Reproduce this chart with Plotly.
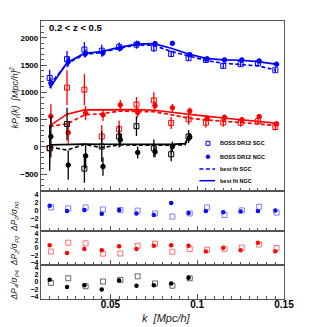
import plotly.graph_objects as go
from plotly.subplots import make_subplots

# ---------------- data ----------------
k = [0.015, 0.025, 0.035, 0.045, 0.055, 0.065, 0.075, 0.085, 0.095,
     0.105, 0.115, 0.125, 0.135, 0.145]
k4 = k[:9]
k4_fit = [0.015, 0.025, 0.035, 0.045, 0.055, 0.065, 0.075, 0.085, 0.093, 0.095]

# monopole (blue)
p0_sgc = [1265, 1610, 1785, 1765, 1835, 1875, 1810, 1705, 1627, 1596, 1486, 1517, 1535, 1407]
p0_sgc_err = [150, 150, 140, 110, 85, 75, 70, 60, 50, 45, 40, 38, 35, 32]
p0_ngc = [1170, 1560, 1715, 1725, 1810, 1895, 1895, 1900, 1694, 1615, 1596, 1596, 1578, 1517]
p0_ngc_err = [100, 85, 70, 60, 50, 45, 40, 35, 30, 28, 25, 24, 22, 20]
fit0_sgc = [1140, 1530, 1695, 1735, 1810, 1870, 1865, 1750, 1670, 1585, 1535, 1517, 1486, 1413]
fit0_ngc = [1080, 1545, 1715, 1750, 1825, 1885, 1895, 1810, 1705, 1625, 1596, 1590, 1565, 1517]

# quadrupole (red)
p2_sgc = [-30, 1088, 1050, 190, 324, 777, 853, 440, 505, 443, 449, 443, 474, 364]
p2_sgc_err = [300, 320, 290, 210, 160, 140, 150, 110, 100, 90, 80, 75, 70, 65]
p2_ngc = [560, 262, 618, 587, 770, 630, 758, 716, 660, 520, 541, 498, 556, 422]
p2_ngc_err = [220, 200, 130, 110, 90, 85, 75, 70, 60, 55, 50, 45, 45, 40]
fit2_sgc = [375, 422, 587, 610, 655, 650, 645, 590, 526, 495, 465, 446, 422, 390]
fit2_ngc = [385, 600, 679, 685, 690, 685, 672, 640, 600, 565, 530, 500, 468, 434]

# hexadecapole (black)
p4_sgc = [-20, 420, -400, 6, 190, 380, -25, -135, 190]
p4_sgc_err = [420, 300, 260, 280, 200, 180, 160, 130, 120]
p4_ngc = [190, -333, -165, -361, 128, -104, -92, 6, 178]
p4_ngc_err = [380, 270, 230, 170, 120, 110, 100, 90, 70]
fit4_sgc = [0, -60, 45, -12, 35, 30, 28, 30, 40, 175]
fit4_ngc = [35, 45, 50, 48, 45, 45, 45, 45, 60, 190]

# residuals (Delta P / sigma)
r0_ngc = [1.3, 0, 0.25, -0.7, 0.25, -0.6, -1.0, 2.0, -0.5, 0, -0.3, -0.15, 0, 0.15]
r0_sgc = [0.9, 0.65, 0.9, 0.4, 0.25, 0.1, -0.6, -1.4, -0.6, 0.9, -1.0, 0.15, 1.05, -0.4]
r2_ngc = [0.8, -1.4, -0.3, -0.6, 0.5, -0.3, 0.65, 0.8, 0.65, -1.0, 0.1, -0.65, 1.5, -0.9]
r2_sgc = [-1.0, 1.5, 1.3, -1.6, -1.55, 0.65, 1.2, -1.05, -0.3, -0.5, -0.25, 0.1, 1.0, 0.0]
r4_ngc = [0.65, -1.4, -0.9, -2.1, 0.4, -1.05, -0.9, -0.4, 1.2]
r4_sgc = [-0.25, 1.05, -1.2, 0.15, 0.6, 1.6, -0.4, -1.05, 1.05]

ref_levels = [-2, 2]
res_ticks = [-4, -2, 0, 2, 4]
res_ticktext = ["\u22124", "\u22122", "0", "2", "4"]

legend_labels = ["BOSS DR12 SGC", "BOSS DR12 NGC", "best fit SGC", "best fit NGC"]

# ---------------- style ----------------
BLUE = "rgb(0,0,255)"
RED = "rgb(255,0,0)"
BLACK = "rgb(0,0,0)"
LBLUE = "rgba(60,60,255,0.65)"
LRED = "rgba(255,40,40,0.65)"
LBLACK = "rgba(0,0,0,0.6)"
FONT = "Liberation Sans"
DASH = "4px,2.5px"
dk = 0.0007  # small visual offset between NGC and SGC markers

OFF = 8  # page body margin of the html page
W, H = 316 - OFF, 327 - OFF
# plot area in screen pixels
SX0, SX1, SY0, SY1 = 37, 284, 21, 299
ML, MR, MT, MB = SX0 - OFF, W - (SX1 - OFF), SY0 - OFF, H - (SY1 - OFF)
PW, PH = SX1 - SX0, SY1 - SY0


def px(x):
    return (x - SX0) / PW


def py(y):
    return 1 - (y - SY0) / PH


fig = make_subplots(rows=4, cols=1, shared_xaxes=True, vertical_spacing=0,
                    row_heights=[170, 40, 34, 34])


def add_err(x, y, e, color, symbol, row, size=5):
    fig.add_trace(go.Scatter(
        x=x, y=y, mode="markers",
        marker=dict(symbol=symbol, size=size, color=color,
                    line=dict(width=1, color=color)),
        error_y=dict(type="data", array=e, visible=True, color=color,
                     thickness=1.3, width=0),
        showlegend=False, hoverinfo="skip"), row=row, col=1)


def add_line(x, y, color, dash, row):
    fig.add_trace(go.Scatter(x=x, y=y, mode="lines",
                             line=dict(color=color, width=1.7, dash=dash),
                             showlegend=False, hoverinfo="skip"), row=row, col=1)


# main panel
for fs, fn, col in [(fit0_sgc, fit0_ngc, BLUE), (fit2_sgc, fit2_ngc, RED)]:
    add_line(k, fs, col, DASH, 1)
    add_line(k, fn, col, "solid", 1)
add_line(k4_fit, fit4_sgc, BLACK, DASH, 1)
add_line(k4_fit, fit4_ngc, BLACK, "solid", 1)

for xs, ps, es, pn, en, col in [
        (k, p0_sgc, p0_sgc_err, p0_ngc, p0_ngc_err, BLUE),
        (k, p2_sgc, p2_sgc_err, p2_ngc, p2_ngc_err, RED),
        (k4, p4_sgc, p4_sgc_err, p4_ngc, p4_ngc_err, BLACK)]:
    add_err(xs, ps, es, col, "square-open", 1, 5)
    add_err([v + dk for v in xs], pn, en, col, "circle", 1, 4.5)

# residual panels
for row, xs, rn, rs, col, lcol in [(2, k, r0_ngc, r0_sgc, BLUE, LBLUE),
                                   (3, k, r2_ngc, r2_sgc, RED, LRED),
                                   (4, k4, r4_ngc, r4_sgc, BLACK, LBLACK)]:
    fig.add_hline(y=0, line=dict(color="#8f8f8f", width=2), row=row, col=1)
    for lv in ref_levels:
        fig.add_hline(y=lv, line=dict(color="#8a8a8a", width=1.2, dash="3px,2px"),
                      row=row, col=1)
    fig.add_trace(go.Scatter(x=xs, y=rn, mode="markers",
                             marker=dict(symbol="circle", size=4.5, color=col),
                             showlegend=False, hoverinfo="skip"), row=row, col=1)
    fig.add_trace(go.Scatter(x=[v + dk for v in xs], y=rs, mode="markers",
                             marker=dict(symbol="square-open", size=5, color=lcol,
                                         line=dict(width=1, color=lcol)),
                             showlegend=False, hoverinfo="skip"), row=row, col=1)

# axes
AXC = "#555555"
for row in range(1, 5):
    fig.update_xaxes(range=[0.01, 0.15], showgrid=False, zeroline=False,
                     showline=True, linecolor=AXC, linewidth=1.3, mirror=True,
                     ticks="inside", ticklen=5, tickcolor=AXC, tickwidth=1,
                     tick0=0, dtick=0.05,
                     minor=dict(ticks="inside", ticklen=3, dtick=0.005,
                                tickcolor=AXC, showgrid=False),
                     showticklabels=(row == 4), row=row, col=1)
fig.update_xaxes(tickfont=dict(family=FONT, size=10, color="black", weight="bold"),
                 tickvals=[0.05, 0.1, 0.15], ticktext=["0.05", "0.1", "0.15"],
                 ticklabelstandoff=-4, row=4, col=1)

fig.update_yaxes(range=[-810, 2310], showgrid=False, zeroline=False,
                 showline=True, linecolor=AXC, linewidth=1.3, mirror=True,
                 ticks="inside", ticklen=6, tickcolor=AXC,
                 tickvals=[-500, 0, 500, 1000, 1500, 2000],
                 ticktext=["\u2212500", "0", "500", "1000", "1500", "2000"],
                 minor=dict(ticks="inside", ticklen=3, dtick=100, tickcolor=AXC),
                 tickfont=dict(family=FONT, size=8, color="black", weight="bold"),
                 row=1, col=1)
for row, rr in [(2, 5.0), (3, 4.8), (4, 4.8)]:
    fig.update_yaxes(range=[-rr, rr], showgrid=False, zeroline=False,
                     showline=True, linecolor=AXC, linewidth=1.3, mirror=True,
                     ticks="", tickvals=res_ticks, ticktext=res_ticktext,
                     tickfont=dict(family=FONT, size=7, color="black", weight="bold"),
                     row=row, col=1)

# text annotations
ann = []
ann.append(dict(text="<b>0.2 &lt; z &lt; 0.5</b>", xref="paper", yref="paper",
                x=px(43), y=py(28), xanchor="left", yanchor="middle", showarrow=False,
                font=dict(family=FONT, size=9.5, color="black")))
ann.append(dict(text="<i>kP<sub>\u2113</sub>(k)  [Mpc/h]<sup>2</sup></i>",
                xref="paper", yref="paper", x=px(10), y=py(97), textangle=-90,
                xanchor="center", yanchor="middle", showarrow=False,
                font=dict(family=FONT, size=9, color="#222")))
ann.append(dict(text="<i>\u0394P<sub>4</sub>/\u03c3<sub>P4</sub>  \u0394P<sub>2</sub>/\u03c3<sub>P2</sub>  \u0394P<sub>0</sub>/\u03c3<sub>P0</sub></i>",
                xref="paper", yref="paper", x=px(10), y=py(250), textangle=-90,
                xanchor="center", yanchor="middle", showarrow=False,
                font=dict(family=FONT, size=8.5, color="#222")))
ann.append(dict(text="<i>k  [Mpc/h]</i>", xref="paper", yref="paper",
                x=px(165), y=py(318), xanchor="center", yanchor="middle",
                showarrow=False, font=dict(family=FONT, size=11, color="#222")))

# manual legend
leg_y = [143.3, 156.7, 169.0, 180.7]
shapes = []
shapes.append(dict(type="rect", xref="paper", yref="paper",
                   x0=px(204.7), x1=px(208.7), y0=py(145.3), y1=py(141.3),
                   line=dict(color=BLUE, width=1)))
shapes.append(dict(type="circle", xref="paper", yref="paper",
                   x0=px(204.9), x1=px(208.5), y0=py(158.5), y1=py(154.9),
                   line=dict(color=BLUE, width=1), fillcolor=BLUE))
shapes.append(dict(type="line", xref="paper", yref="paper",
                   x0=px(198), x1=px(214), y0=py(leg_y[2]), y1=py(leg_y[2]),
                   line=dict(color=BLUE, width=1.5, dash=DASH)))
shapes.append(dict(type="line", xref="paper", yref="paper",
                   x0=px(198), x1=px(214), y0=py(leg_y[3]), y1=py(leg_y[3]),
                   line=dict(color=BLUE, width=1.5)))
for lab, yy in zip(legend_labels, leg_y):
    ann.append(dict(text=lab, xref="paper", yref="paper", x=px(217), y=py(yy),
                    xanchor="left", yanchor="middle", showarrow=False,
                    font=dict(family=FONT, size=5.5, color="black", weight="bold")))

fig.update_layout(width=W, height=H, margin=dict(l=ML, r=MR, t=MT, b=MB),
                  paper_bgcolor="white", plot_bgcolor="white",
                  annotations=list(fig.layout.annotations) + ann,
                  shapes=list(fig.layout.shapes) + shapes,
                  showlegend=False)

fig.write_html("out.html")
